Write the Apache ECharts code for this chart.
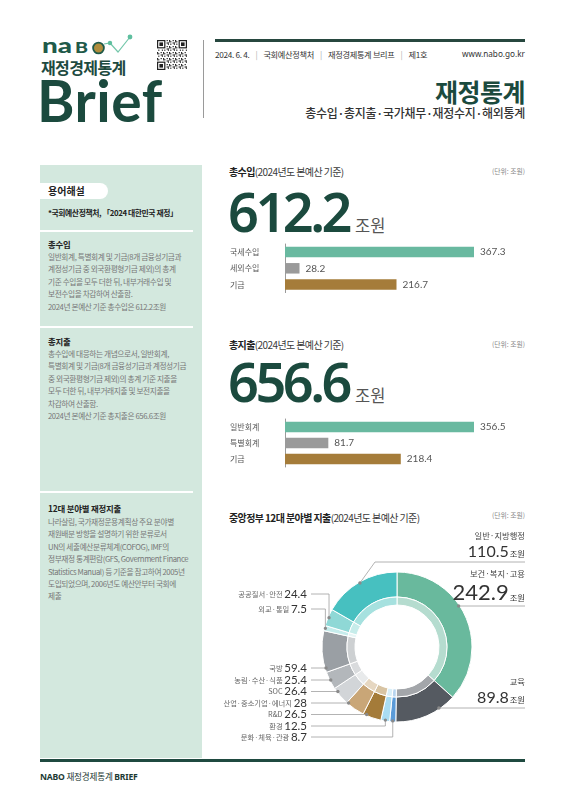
<!DOCTYPE html>
<html><head><meta charset="utf-8">
<script src="https://cdn.jsdelivr.net/npm/echarts@6/dist/echarts.min.js"></script>
<style>
html,body{margin:0;padding:0;width:566px;height:800px;background:#fff;overflow:hidden;font-family:"Noto Sans CJK KR","Noto Sans",sans-serif;}
.a{position:absolute;white-space:nowrap;}
.p{position:absolute;white-space:nowrap;font-size:7.7px;line-height:12.4px;color:#777;letter-spacing:-0.4px;left:48px;}
.h{position:absolute;white-space:nowrap;font-size:8.4px;line-height:10px;color:#222;font-weight:700;left:48px;letter-spacing:-0.2px;}
.wl{position:absolute;left:40px;width:153px;height:1.5px;background:#fff;}
.t{position:absolute;left:229px;white-space:nowrap;font-size:10px;line-height:12px;letter-spacing:-0.6px;color:#222;}
.t b{font-weight:700;}
.t span{font-weight:400;color:#3a3a3a;}
.u{position:absolute;right:41px;font-size:6.8px;line-height:8px;color:#888;white-space:nowrap;}
.big{position:absolute;left:228px;white-space:nowrap;line-height:54px;height:54px;}
.big .n{font-family:"Noto Sans",sans-serif;font-size:54px;font-weight:600;color:#1b4a3e;letter-spacing:-3.5px;}
.big .w{font-size:16.5px;color:#555;margin-left:6px;font-family:"Noto Sans CJK KR";}
#chart{position:absolute;left:0;top:0;width:566px;height:800px;z-index:5;}
</style></head><body>

<!-- header left: logo -->
<svg class="a" style="left:40px;top:34px" width="100" height="26" viewBox="0 0 100 26">
  <text x="2" y="19" font-family="Lato" font-weight="900" font-size="20" fill="#1f5a4a" textLength="30" lengthAdjust="spacingAndGlyphs">na</text>
  <text x="35" y="19" font-family="Lato" font-weight="900" font-size="14.5" fill="#1f5a4a" textLength="13" lengthAdjust="spacingAndGlyphs">B</text>
  <circle cx="58.5" cy="14" r="5.4" fill="#b08d3c" stroke="#1f5a4a" stroke-width="1.8"/>
  <polyline points="64,10 70,9 78,18 90,3" fill="none" stroke="#74c7aa" stroke-width="1.2"/>
  <circle cx="70" cy="9" r="2.2" fill="#5fbf9f"/>
  <circle cx="90" cy="3" r="2.4" fill="#5fbf9f"/>
</svg>
<div class="a" style="left:41px;top:58px;font-size:16px;line-height:18px;font-weight:700;color:#1d4a40;letter-spacing:-0.6px">재정경제통계</div>
<div class="a" style="left:37px;top:72px;font-family:Lato;font-size:57px;line-height:57px;font-weight:700;color:#1b4a3e;letter-spacing:0.5px">Brief</div>
<svg id="qr" class="a" style="left:157px;top:40px" width="30" height="30" viewBox="0 0 25 25"></svg>
<div class="a" style="left:203px;top:40px;width:1px;height:78px;background:#9a9a9a"></div>

<!-- header right -->
<div class="a" style="left:215px;top:39px;width:310px;height:3px;background:#27473f"></div>
<div class="a" style="left:215px;top:49px;font-size:8.2px;line-height:10px;color:#333;letter-spacing:-0.3px">2024. 6. 4.<span style="color:#aaa;margin:0 6px">|</span>국회예산정책처<span style="color:#aaa;margin:0 6px">|</span>재정경제통계 브리프<span style="color:#aaa;margin:0 6px">|</span>제1호</div>
<div class="a" style="right:41px;top:49px;font-size:8.2px;line-height:10px;color:#333;font-family:'Noto Sans'">www.nabo.go.kr</div>
<div class="a" style="right:41px;top:77px;font-size:25px;line-height:28px;font-weight:700;color:#1b4a3e;letter-spacing:-0.5px">재정통계</div>
<div class="a" style="right:41px;top:105px;font-size:12px;line-height:15px;font-weight:500;color:#333;letter-spacing:-0.3px">총수입·총지출·국가채무·재정수지·해외통계</div>

<!-- sidebar -->
<div class="a" style="left:40px;top:165px;width:162px;height:593px;background:#d3e8de"></div>
<div class="a" style="left:40px;top:183px;width:68px;height:16px;background:#fff;border-radius:0 8px 8px 0"></div>
<div class="a" style="left:48px;top:185px;font-size:10px;line-height:12px;font-weight:700;color:#222">용어해설</div>
<div class="h" style="top:208px;font-size:7.8px;letter-spacing:-0.4px">*국회예산정책처, 「2024 대한민국 재정」</div>
<div class="wl" style="top:230px"></div>
<div class="h" style="top:239px">총수입</div>
<div class="p" style="top:251px">일반회계, 특별회계 및 기금(8개 금융성기금과<br>계정성기금 중 외국환평형기금 제외)의 총계<br>기준 수입을 모두 더한 뒤, 내부거래수입 및<br>보전수입을 차감하여 산출함.<br>2024년 본예산 기준 총수입은 612.2조원</div>
<div class="wl" style="top:326px"></div>
<div class="h" style="top:336px">총지출</div>
<div class="p" style="top:348px">총수입에 대응하는 개념으로서, 일반회계,<br>특별회계 및 기금(8개 금융성기금과 계정성기금<br>중 외국환평형기금 제외)의 총계 기준 지출을<br>모두 더한 뒤, 내부거래지출 및 보전지출을<br>차감하여 산출함.<br>2024년 본예산 기준 총지출은 656.6조원</div>
<div class="wl" style="top:491px"></div>
<div class="h" style="top:503px">12대 분야별 재정지출</div>
<div class="p" style="top:516px">나라살림, 국가재정운용계획상 주요 분야별<br>재원배분 방향을 설명하기 위한 분류로서<br>UN의 세출예산분류체계(COFOG), IMF의<br>정부재정 통계편람(GFS, Government Finance<br>Statistics Manual) 등 기준을 참고하여 2005년<br>도입되었으며, 2006년도 예산안부터 국회에<br>제출</div>

<!-- section titles -->
<div class="t" style="top:166px"><b>총수입</b><span>(2024년도 본예산 기준)</span></div>
<div class="u" style="top:167px">(단위: 조원)</div>
<div class="big" style="top:184px"><span class="n" id="tot1"></span><span class="w">조원</span></div>

<div class="t" style="top:339px"><b>총지출</b><span>(2024년도 본예산 기준)</span></div>
<div class="u" style="top:340px">(단위: 조원)</div>
<div class="big" style="top:354px"><span class="n" id="tot2"></span><span class="w">조원</span></div>

<div class="t" style="top:512px"><b>중앙정부 12대 분야별 지출</b><span>(2024년도 본예산 기준)</span></div>
<div class="u" style="top:511px">(단위: 조원)</div>

<!-- footer -->
<div class="a" style="left:40px;top:759px;width:485px;height:2.5px;background:#1f4a40"></div>
<div class="a" style="left:40px;top:771px;font-size:8.6px;line-height:11px;color:#1d3a34;letter-spacing:-0.2px"><b style="font-family:'Noto Sans'">NABO</b> 재정경제통계 <b style="font-family:'Noto Sans'">BRIEF</b></div>

<div id="chart"></div>

<script>
// ---------- data ----------
const revenueCategories = ['국세수입', '세외수입', '기금'];
const revenueValues = [367.3, 28.2, 216.7];
const revenueTotal = 612.2;

const expenditureCategories = ['일반회계', '특별회계', '기금'];
const expenditureValues = [356.5, 81.7, 218.4];
const expenditureTotal = 656.6;

const sectorNames = ['보건·복지·고용', '교육', '문화·체육·관광', '환경', 'R&D', '산업·중소기업·에너지',
  'SOC', '농림·수산·식품', '국방', '외교·통일', '공공질서·안전', '일반·지방행정'];
const sectorValues = [242.9, 89.8, 8.7, 12.5, 26.5, 28, 26.4, 25.4, 59.4, 7.5, 24.4, 110.5];

// ---------- styles ----------
const barColors = ['#69b9a0', '#9a9a9a', '#a57c3a'];
const sectorColors = ['#69b99d', '#555a61', '#5b9bd8', '#a9dcf2', '#a47b39', '#c9a677',
  '#d2d5d8', '#b3b7bb', '#9a9fa4', '#c6ecec', '#8fd8d6', '#47c0c0'];
const sectorInnerColors = ['#b5dccf', '#a3a6aa', '#b8d5ef', '#d8eff9', '#d8c4a3', '#e6d7c1',
  '#e8eaeb', '#d9dbdd', '#cdd0d2', '#e6f6f6', '#c6ecea', '#a6e1df'];
const CX = 397, CY = 647, R_OUT = 75, R_MID = 50, R_IN = 42;
// label layout for donut: side, level of leader line, routing
const donutLabelLayout = [
  { side: 'right', y: 606, route: 'h', big: 'L' },
  { side: 'right', y: 708, route: 'h', big: 'M' },
  { side: 'left', y: 737, route: 'hv' },
  { side: 'left', y: 726, route: 'hv' },
  { side: 'left', y: 714.5, route: 'h' },
  { side: 'left', y: 703, route: 'h' },
  { side: 'left', y: 691.5, route: 'h' },
  { side: 'left', y: 680, route: 'h' },
  { side: 'left', y: 668, route: 'h' },
  { side: 'left', y: 609, route: 'hv' },
  { side: 'left', y: 594, route: 'hv' },
  { side: 'right', y: 562, route: 'hd', bendX: 375, big: 'M' }
];

document.getElementById('tot1').textContent = revenueTotal.toFixed(1);
document.getElementById('tot2').textContent = expenditureTotal.toFixed(1);

// decorative QR pattern
(function () {
  const svg = document.getElementById('qr');
  let s = '<rect width="25" height="25" fill="#fff"/>';
  const finder = (x, y) => `<rect x="${x}" y="${y}" width="7" height="7" fill="#222"/><rect x="${x + 1}" y="${y + 1}" width="5" height="5" fill="#fff"/><rect x="${x + 2}" y="${y + 2}" width="3" height="3" fill="#222"/>`;
  for (let i = 0; i < 25; i++) for (let j = 0; j < 25; j++) {
    const inF = (i < 8 && j < 8) || (i < 8 && j > 16) || (i > 16 && j < 8);
    if (!inF && ((i * 31 + j * 17 + i * j * 7) % 5) < 2) s += `<rect x="${j}" y="${i}" width="1" height="1" fill="#222"/>`;
  }
  s += finder(0, 0) + finder(18, 0) + finder(0, 18);
  svg.innerHTML = s;
})();

const total = sectorValues.reduce((a, b) => a + b, 0);
const CJK = 'Noto Sans CJK KR';

function annotation(params, api) {
  const i = params.dataIndex;
  const cfg = donutLabelLayout[i];
  let before = 0;
  for (let k = 0; k < i; k++) before += sectorValues[k];
  const mid = (before + sectorValues[i] / 2) / total * Math.PI * 2;
  const R = 74;
  const startX = cfg.side === 'left' ? 311 : 525;
  let anchor, pts;
  if (cfg.route === 'h') {
    const dy = cfg.y - CY;
    const dx = Math.sqrt(R * R - dy * dy) * (cfg.side === 'left' ? -1 : 1);
    anchor = [CX + dx, cfg.y];
    pts = [[startX, cfg.y], anchor];
  } else if (cfg.route === 'hv') {
    anchor = [CX + R * Math.sin(mid), CY - R * Math.cos(mid)];
    pts = [[startX, cfg.y], [anchor[0], cfg.y], anchor];
  } else {
    anchor = [CX + R * Math.sin(mid), CY - R * Math.cos(mid)];
    pts = [[startX, cfg.y], [cfg.bendX, cfg.y], anchor];
  }
  const val = sectorValues[i];
  let textEl;
  if (cfg.side === 'left') {
    textEl = {
      type: 'text',
      style: {
        text: '{n|' + sectorNames[i] + ' }{v|' + val + '}',
        x: 307, y: cfg.y, align: 'right', verticalAlign: 'middle',
        rich: {
          n: { fontSize: 7.3, fill: '#666', fontFamily: CJK, lineHeight: 12 },
          v: { fontSize: 11.5, fill: '#333', fontFamily: 'Lato', lineHeight: 12 }
        }
      }
    };
  } else {
    const big = cfg.big === 'L' ? 22 : 16;
    textEl = {
      type: 'text',
      style: {
        text: '{n|' + sectorNames[i] + '}\n{v|' + val.toFixed(1) + '}{u|조원}',
        x: 525, y: cfg.y - 2, align: 'right', verticalAlign: 'bottom',
        rich: {
          n: { fontSize: 8.3, fill: '#444', fontFamily: CJK, lineHeight: 14, align: 'right' },
          v: { fontSize: big, fill: '#333', fontFamily: 'Lato', lineHeight: big + 1, verticalAlign: 'bottom', align: 'right' },
          u: { fontSize: 8.3, fill: '#333', fontFamily: CJK, lineHeight: big + 1, verticalAlign: 'bottom', align: 'right', padding: [0, 0, 2, 1] }
        }
      }
    };
  }
  return {
    type: 'group',
    children: [
      { type: 'polyline', shape: { points: pts }, style: { stroke: '#a0a0a0', lineWidth: 0.8, fill: 'none' } },
      { type: 'circle', shape: { cx: anchor[0], cy: anchor[1], r: 1.7 }, style: { fill: '#8a8a8a' } },
      textEl
    ]
  };
}

function barAxis(cats, gi) {
  return {
    gridIndex: gi, type: 'category', data: cats, inverse: true,
    axisLine: { show: true, lineStyle: { color: '#9a9a9a', width: 1 } },
    axisTick: { show: false }, splitLine: { show: false },
    axisLabel: { align: 'left', margin: 55, fontSize: 8, color: '#555', fontFamily: CJK }
  };
}
function barSeries(vals, gi) {
  return {
    type: 'bar', xAxisIndex: gi, yAxisIndex: gi, barWidth: 10.5, silent: true,
    data: vals.map((v, i) => ({ value: v, itemStyle: { color: barColors[i] } })),
    label: { show: true, position: 'right', distance: 6, fontSize: 10, color: '#555', fontFamily: 'Lato' }
  };
}

const chart = echarts.init(document.getElementById('chart'), null, { renderer: 'canvas' });
chart.setOption({
  animation: false,
  backgroundColor: 'transparent',
  grid: [
    { left: 285, width: 189, top: 244, height: 48.6, outerBoundsMode: 'none', containLabel: false },
    { left: 285, width: 189, top: 419, height: 48, outerBoundsMode: 'none', containLabel: false }
  ],
  xAxis: [
    { gridIndex: 0, type: 'value', min: 0, max: 'dataMax', show: false },
    { gridIndex: 1, type: 'value', min: 0, max: 'dataMax', show: false }
  ],
  yAxis: [barAxis(revenueCategories, 0), barAxis(expenditureCategories, 1)],
  series: [
    barSeries(revenueValues, 0),
    barSeries(expenditureValues, 1),
    {
      type: 'pie', center: [CX, CY], radius: [R_MID, R_OUT], startAngle: 90, clockwise: true, silent: true,
      label: { show: false }, labelLine: { show: false },
      itemStyle: { borderColor: '#fff', borderWidth: 1 },
      data: sectorValues.map((v, i) => ({ name: sectorNames[i], value: v, itemStyle: { color: sectorColors[i] } }))
    },
    {
      type: 'pie', center: [CX, CY], radius: [R_IN, R_MID], startAngle: 90, clockwise: true, silent: true,
      label: { show: false }, labelLine: { show: false },
      itemStyle: { borderColor: '#fff', borderWidth: 1 },
      data: sectorValues.map((v, i) => ({ name: sectorNames[i], value: v, itemStyle: { color: sectorInnerColors[i] } }))
    },
    { type: 'custom', coordinateSystem: 'none', silent: true, z: 10, data: sectorValues, renderItem: annotation }
  ]
});
</script>
</body></html>
